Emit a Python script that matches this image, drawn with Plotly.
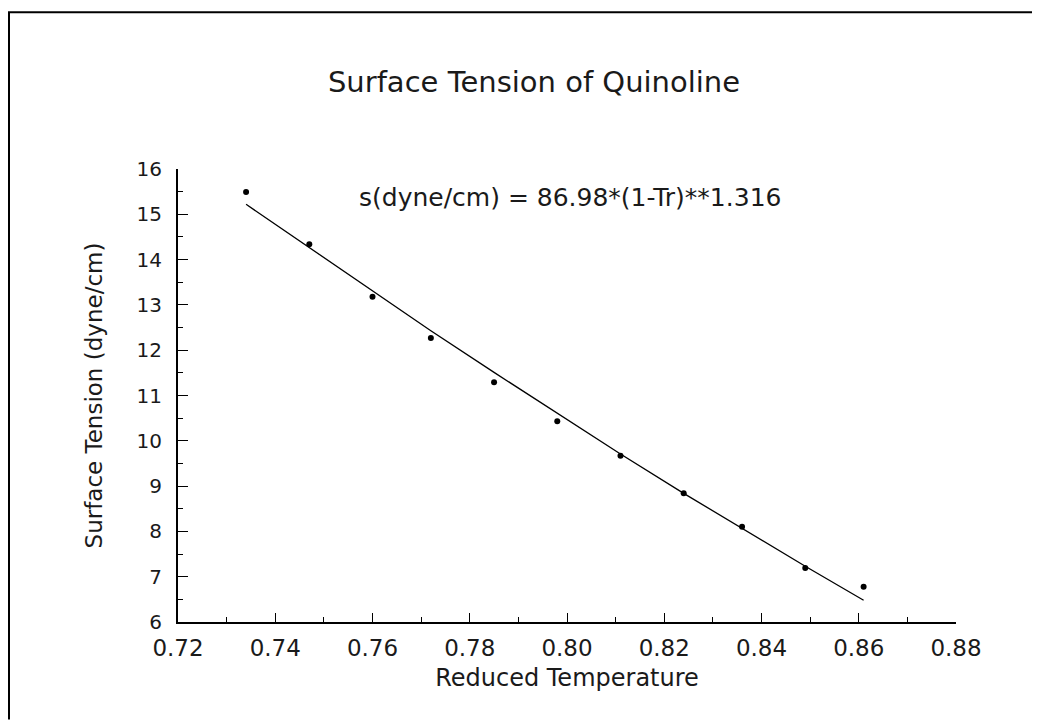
import plotly.graph_objects as go

# Data
reduced_temp = [0.734, 0.747, 0.760, 0.772, 0.785, 0.798, 0.811, 0.824, 0.836, 0.849, 0.861]
surface_tension = [15.49, 14.34, 13.18, 12.27, 11.29, 10.43, 9.67, 8.84, 8.10, 7.19, 6.78]
# Fitted curve s = 86.98*(1-Tr)**1.316, values read at the same temperatures
fit_tension = [15.22, 14.26, 13.30, 12.43, 11.51, 10.60, 9.71, 8.84, 8.06, 7.23, 6.48]

x_ticks = [0.72, 0.74, 0.76, 0.78, 0.80, 0.82, 0.84, 0.86, 0.88]
x_ticklabels = ["0.72", "0.74", "0.76", "0.78", "0.80", "0.82", "0.84", "0.86", "0.88"]
y_ticks = [6, 7, 8, 9, 10, 11, 12, 13, 14, 15, 16]

title_text = "Surface Tension of Quinoline"
equation_text = "s(dyne/cm) = 86.98*(1-Tr)**1.316"
x_title = "Reduced Temperature"
y_title = "Surface Tension (dyne/cm)"

FONT = "DejaVu Sans"
TXT = "#1a1a1a"

fig = go.Figure()
fig.add_trace(go.Scatter(x=reduced_temp, y=fit_tension, mode="lines",
                         line=dict(color="black", width=1.3), showlegend=False))
fig.add_trace(go.Scatter(x=reduced_temp, y=surface_tension, mode="markers",
                         marker=dict(color="black", size=6), showlegend=False))

# page is drawn with an 8px body margin
OFF = 8
W, H = 1040 - OFF, 720 - OFF
L, R, T, B = 178 - OFF, 84, 169 - OFF, 97.5
pw, ph = W - L - R, H - T - B

fig.update_layout(
    width=W, height=H,
    margin=dict(l=L, r=R, t=T, b=B, autoexpand=False),
    paper_bgcolor="white", plot_bgcolor="white",
    font=dict(family=FONT, color=TXT),
    title=dict(text=title_text, x=(534 - OFF) / W, xanchor="center", xref="container",
               y=1 - (82 - OFF) / H, yanchor="middle", yref="container",
               font=dict(size=29, family=FONT, color=TXT)),
    xaxis=dict(range=[0.72, 0.88], tickvals=x_ticks, ticktext=x_ticklabels,
               ticks="inside", ticklen=9, tickwidth=1.3, tickcolor="black",
               showline=True, linecolor="black", linewidth=2,
               showgrid=False, zeroline=False,
               tickfont=dict(size=23, family=FONT, color=TXT),
               ticklabelstandoff=4,
               minor=dict(dtick=0.01, ticks="inside", ticklen=5, tickcolor="black", tickwidth=1),
               title=dict(text=x_title, font=dict(size=24, family=FONT, color=TXT), standoff=10)),
    yaxis=dict(range=[6, 16], tickvals=y_ticks,
               ticks="inside", ticklen=10, tickwidth=1.3, tickcolor="black",
               showline=True, linecolor="black", linewidth=2,
               showgrid=False, zeroline=False,
               tickfont=dict(size=20, family=FONT, color=TXT),
               ticklabelstandoff=10,
               minor=dict(dtick=0.5, ticks="inside", ticklen=5, tickcolor="black", tickwidth=1),
               title=dict(text=y_title, font=dict(size=23, family=FONT, color=TXT), standoff=27)),
    annotations=[dict(text=equation_text, x=0.7568, xref="x", xanchor="left",
                      y=15.36, yref="y", yanchor="middle", showarrow=False,
                      font=dict(size=25, family=FONT, color=TXT))],
    shapes=[
        dict(type="line", xref="paper", yref="paper",
             x0=-L / pw, x1=(W - L) / pw, y0=(H - B - 4) / ph, y1=(H - B - 4) / ph,
             line=dict(color="black", width=2)),
        dict(type="line", xref="paper", yref="paper",
             x0=(1 - L) / pw, x1=(1 - L) / pw, y0=-B / ph, y1=(H - B - 4) / ph,
             line=dict(color="black", width=2)),
    ],
)

fig.write_html("out.html")
